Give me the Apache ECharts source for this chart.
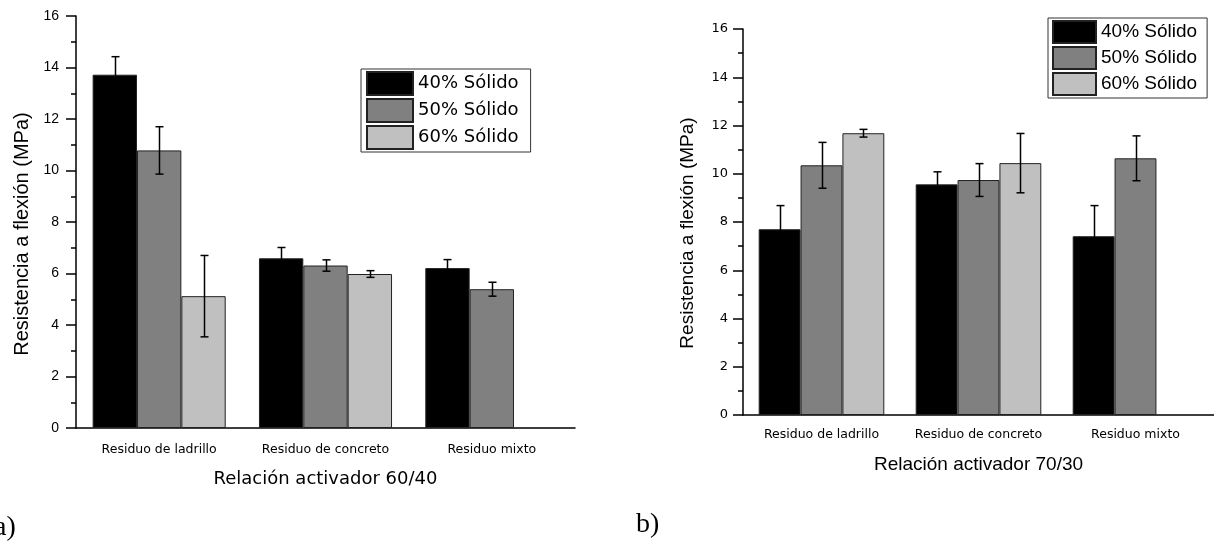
<!DOCTYPE html>
<html><head><meta charset="utf-8">
<script src="https://cdn.jsdelivr.net/npm/echarts@6/dist/echarts.min.js"></script>
<style>html,body{margin:0;padding:0;background:#fff}#c{width:1214px;height:546px}</style>
</head><body><div id="c"></div>
<script>
const categories = ['Residuo de ladrillo', 'Residuo de concreto', 'Residuo mixto'];
const seriesNames = ['40% Sólido', '50% Sólido', '60% Sólido'];
const yTicks = [0, 16, 2];
const titleA = 'Relación activador 60/40';
const titleB = 'Relación activador 70/30';
const yTitle = 'Resistencia a flexión (MPa)';

// chart a) 60/40
const a40 = [13.72, 6.59, 6.21];
const a40err = [0.70, 0.42, 0.33];
const a50 = [10.78, 6.31, 5.39];
const a50err = [0.92, 0.22, 0.27];
const a60 = [5.12, 5.98, null];
const a60err = [1.58, 0.13, null];

// chart b) 70/30
const b40 = [7.70, 9.56, 7.41];
const b40err = [0.98, 0.52, 1.27];
const b50 = [10.35, 9.74, 10.64];
const b50err = [0.95, 0.68, 0.93];
const b60 = [11.68, 10.44, null];
const b60err = [0.16, 1.23, null];

const colors = ['#000000', '#808080', '#c0c0c0'];

function errRender(k) {
  return function (params, api) {
    const cat = api.value(0), v = api.value(1), e = api.value(2);
    const band = api.size([1, 0])[0];
    const bw = band * 0.8 / 3;
    const c = api.coord([cat, v]);
    const x = Math.round(c[0] + (k - 1) * bw) + 0.5;
    const top = api.coord([cat, v + e])[1];
    const bot = api.coord([cat, v - e])[1];
    const w = 4;
    const st = { stroke: '#000', lineWidth: 1.5 };
    return { type: 'group', children: [
      { type: 'line', shape: { x1: x, y1: top, x2: x, y2: bot }, style: st },
      { type: 'line', shape: { x1: x - w, y1: top, x2: x + w, y2: top }, style: st },
      { type: 'line', shape: { x1: x - w, y1: bot, x2: x + w, y2: bot }, style: st }
    ]};
  };
}
function errData(vals, errs) {
  const out = [];
  vals.forEach((v, i) => { if (v != null) out.push([i, v, errs[i]]); });
  return out;
}

function makeSeries(gi, sets) {
  const s = [];
  sets.forEach((d, k) => {
    s.push({
      type: 'bar', name: seriesNames[k], xAxisIndex: gi * 2, yAxisIndex: gi,
      data: d[0].map(v => v == null ? '-' : v),
      barGap: '0%', barCategoryGap: '20%',
      itemStyle: { color: colors[k], borderColor: '#222', borderWidth: 1 },
      emphasis: { disabled: true }, z: 2
    });
  });
  sets.forEach((d, k) => {
    s.push({
      type: 'custom', name: 'err' + gi + k, xAxisIndex: gi * 2, yAxisIndex: gi,
      renderItem: errRender(k), data: errData(d[0], d[1]),
      encode: { x: 0, y: 1 }, z: 5, silent: true
    });
  });
  return s;
}

function xAxes(gi, fontFamily, fontSize, margin, name, nameFont, nameSize, nameGap) {
  return [{
    type: 'category', gridIndex: gi, data: categories,
    axisLine: { lineStyle: { color: '#000', width: 1.5 } },
    axisTick: { alignWithLabel: true, length: 7, lineStyle: { color: '#000', width: 1.5 } },
    axisLabel: { color: '#000', fontFamily: fontFamily, fontSize: fontSize, margin: margin, interval: 0, hideOverlap: false },
    name: name, nameLocation: 'middle', nameGap: nameGap,
    nameTextStyle: { color: '#000', fontFamily: nameFont, fontSize: nameSize }
  }, {
    type: 'category', gridIndex: gi, data: categories,
    axisLine: { show: false },
    axisTick: { length: 4, lineStyle: { color: '#000', width: 1.5 } },
    axisLabel: { show: false }
  }];
}
function yAxis(gi, fontFamily, fontSize, margin) {
  return {
    type: 'value', gridIndex: gi, min: yTicks[0], max: yTicks[1], interval: yTicks[2],
    axisLine: { show: true, lineStyle: { color: '#000', width: 1.5 } },
    axisTick: { show: true, length: 10, lineStyle: { color: '#000', width: 1.5 } },
    minorTick: { show: true, splitNumber: 2, length: 5, lineStyle: { color: '#000', width: 1.5 } },
    splitLine: { show: false },
    axisLabel: { color: '#000', fontFamily: fontFamily, fontSize: fontSize, margin: margin }
  };
}

const chart = echarts.init(document.getElementById('c'));
chart.setOption({
  animation: false,
  backgroundColor: '#fff',
  grid: [
    { left: 76, top: 16, width: 499, height: 412 },
    { left: 743, top: 29, width: 471, height: 386 }
  ],
  xAxis: [].concat(
    xAxes(0, 'DejaVu Sans', 12.5, 15, titleA, 'DejaVu Sans', 18, 42),
    xAxes(1, 'DejaVu Sans', 12.5, 13, titleB, 'Liberation Sans', 19, 40)
  ),
  yAxis: [yAxis(0, 'Liberation Sans', 14, 17), yAxis(1, 'DejaVu Sans', 13, 15)],
  legend: [{
    left: 361, top: 69, orient: 'vertical', itemWidth: 46, itemHeight: 23, itemGap: 2,
    padding: [2, 12, 2, 5], borderColor: '#333', borderWidth: 1, icon: 'rect',
    selectedMode: false, data: seriesNames,
    textStyle: { color: '#000', fontFamily: 'DejaVu Sans', fontSize: 18 }
  }, {
    left: 1048, top: 18, orient: 'vertical', itemWidth: 43, itemHeight: 22, itemGap: 2,
    padding: [2, 10, 2, 4], borderColor: '#333', borderWidth: 1, icon: 'rect',
    selectedMode: false, data: seriesNames,
    textStyle: { color: '#000', fontFamily: 'Liberation Sans', fontSize: 19 }
  }],
  graphic: [
    { type: 'text', x: 22, y: 234, rotation: Math.PI / 2,
      style: { text: yTitle, font: '20px "Liberation Sans"', fill: '#000', align: 'center', verticalAlign: 'middle' } },
    { type: 'text', x: 688, y: 233, rotation: Math.PI / 2,
      style: { text: yTitle, font: '19px "Liberation Sans"', fill: '#000', align: 'center', verticalAlign: 'middle' } },
    { type: 'text', left: -6, top: 514,
      style: { text: 'a)', font: '28px "Liberation Serif"', fill: '#000' } },
    { type: 'text', left: 636, top: 511,
      style: { text: 'b)', font: '28px "Liberation Serif"', fill: '#000' } }
  ],
  series: [].concat(
    makeSeries(0, [[a40, a40err], [a50, a50err], [a60, a60err]]),
    makeSeries(1, [[b40, b40err], [b50, b50err], [b60, b60err]])
  )
});
</script></body></html>
